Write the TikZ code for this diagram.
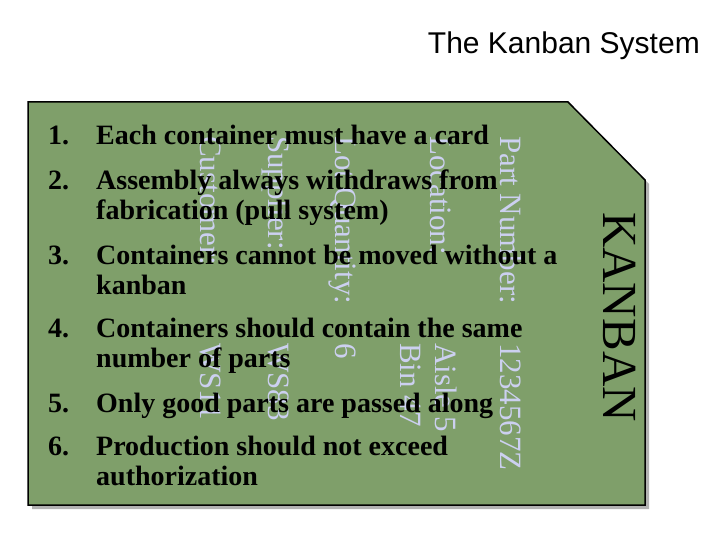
\documentclass[tikz,border=0pt]{standalone}
\usepackage{fontspec}
\setmainfont{Liberation Serif}
\newfontfamily\arialf{Liberation Sans}
\begin{document}
\begin{tikzpicture}[x=1pt,y=-1pt,
  lbl/.style={rotate=-90,anchor=base west,inner sep=0,text=lav,font=\fontsize{31}{31}\selectfont},
  item/.style={anchor=base west,inner sep=0,font=\bfseries\fontsize{28}{28}\selectfont}]
\definecolor{lav}{HTML}{CCD0F0}
\definecolor{cardg}{HTML}{7F9F6A}
\useasboundingbox (0,0) rectangle (720,540);
\node[anchor=base east,inner sep=0,font=\arialf\fontsize{30}{30}\selectfont] (title) at (700,54) {The Kanban System};
\fill[gray!60] (32,106) -- (572,106) -- (649,184) -- (649,509) -- (32,509) -- cycle;
\filldraw[fill=cardg,draw=black,line width=1.5] (28,102) -- (568,102) -- (645,180) -- (645,505) -- (28,505) -- cycle;
\node[lbl] (pn) at (500,136) {Part Number:};
\node[lbl] (loc) at (430,136) {Location:};
\node[lbl] (lq) at (335,136) {Lot Quantity:};
\node[lbl] (sup) at (268,136) {Supplier:};
\node[lbl] (cus) at (200,136) {Customer:};
\node[lbl] (v1) at (500,343) {1234567Z};
\node[lbl] (v2) at (435,343) {Aisle 5};
\node[lbl] (v3) at (400,343) {Bin 47};
\node[lbl] (v4) at (335,343) {6};
\node[lbl] (v5) at (268,343) {WS83};
\node[lbl] (v6) at (200,343) {WS11};
\node[rotate=-90,anchor=base west,inner sep=0,font=\fontsize{49}{49}\selectfont] (kb) at (603,212) {KANBAN};
\foreach \n/\y/\t in {1/145/{Each container must have a card},
  2/190/{Assembly always withdraws from},
  3/264/{Containers cannot be moved without a},
  4/337/{Containers should contain the same},
  5/412/{Only good parts are passed along},
  6/455/{Production should not exceed}}{
  \node[item] (n\n) at (48,\y) {\n.};
  \node[item] (t\n) at (96,\y) {\t};
}
\node[item] (t2b) at (96,220) {fabrication (pull system)};
\node[item] (t3b) at (96,294) {kanban};
\node[item] (t4b) at (96,367) {number of parts};
\node[item] (t6b) at (96,485) {authorization};
\end{tikzpicture}
\end{document}
